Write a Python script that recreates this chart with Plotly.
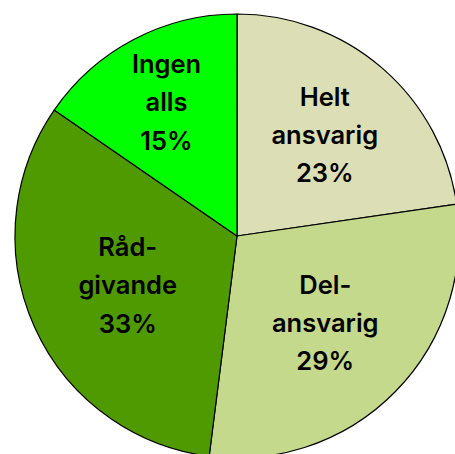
import plotly.graph_objects as go

labels = ["Helt<br>ansvarig", "Del-<br>ansvarig", "Råd-<br>givande", "Ingen<br>alls"]
values = [22.7, 29.3, 32.6, 15.4]
colors = ["#DCDFB6", "#C4D98C", "#4F9A00", "#00FF00"]

GLYPH = "<span style='font-size:25.5px'>{}</span>"
text = ["<br>".join(GLYPH.format(part) for part in lab.split("<br>")) for lab in labels]

W, H = 460, 460
fig = go.Figure(go.Pie(
    labels=labels,
    values=values,
    text=text,
    sort=False,
    direction="clockwise",
    rotation=0,
    marker=dict(colors=colors, line=dict(color="black", width=1.2)),
    texttemplate="%{text}<br>" + GLYPH.format("%{percent:.0%}"),
    textposition="inside",
    insidetextorientation="horizontal",
    insidetextfont=dict(family="Inter", size=29.5, color="black", weight=600),
    hoverinfo="label+percent",
    domain=dict(x=[15 / W, 459 / W], y=[2 / H, 446 / H]),
))
fig.update_layout(
    width=W, height=H,
    margin=dict(l=0, r=0, t=0, b=0),
    showlegend=False,
    paper_bgcolor="white",
)
fig.write_html(
    "out.html",
    config={"displayModeBar": False},
    post_script="document.body.style.margin='0';document.body.style.overflow='hidden';",
)
